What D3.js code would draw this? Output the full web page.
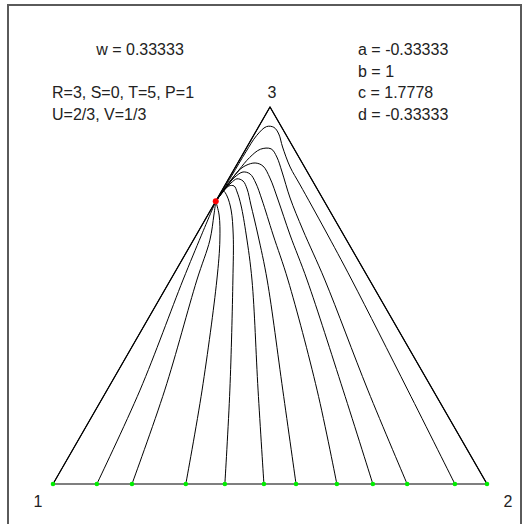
<!DOCTYPE html>
<html>
<head>
<meta charset="utf-8">
<script src="https://cdn.jsdelivr.net/npm/d3@7/dist/d3.min.js"></script>
<style>
  html, body { margin: 0; padding: 0; background: #fff; }
  svg { display: block; }
  text { font-family: "Liberation Sans", Arial, sans-serif; font-size: 16px; fill: #222; }
</style>
</head>
<body>
<svg id="chart" width="524" height="524"></svg>
<script>
// Simplex of three strategies; each point is [share of 2, share of 3] (share of 1 is the rest).
const vertexLabels = ["1", "2", "3"];
const weightLabel = "w = 0.33333";
const payoffLabels = ["R=3, S=0, T=5, P=1", "U=2/3, V=1/3"];
const coefLabels = ["a = -0.33333", "b = 1", "c = 1.7778", "d = -0.33333"];

// starting states on the 1–2 edge
const starts = [0, 0.101, 0.182, 0.306, 0.396, 0.486, 0.560, 0.654, 0.737, 0.816, 0.926, 1];

// rest point on the 1–3 edge
const restPoint = [0, 0.75];

// trajectories, one per starting state
const traj0 = [[0, 0], [0, 0.75]];
const traj1 = [[0.101, 0], [0.076, 0.249], [0.029, 0.541], [0.012, 0.66], [0, 0.75]];
const traj2 = [[0.182, 0], [0.133, 0.249], [0.061, 0.541], [0.038, 0.647], [0.014, 0.7135], [0, 0.75]];
const traj3 = [[0.306, 0], [0.219, 0.249], [0.107, 0.541], [0.061, 0.647], [0.026, 0.7135], [0, 0.75]];
const traj4 = [[0.396, 0], [0.283, 0.249], [0.144, 0.541], [0.085, 0.6605], [0.047, 0.7268],
               [0.019, 0.7639], [0.004, 0.7772], [0.002, 0.765], [0, 0.75]];
const traj5 = [[0.486, 0], [0.348, 0.249], [0.188, 0.541], [0.115, 0.6605], [0.063, 0.7401],
               [0.037, 0.7745], [0.022, 0.7905], [0.010, 0.7905], [0.005, 0.7772], [0.002, 0.7613], [0, 0.75]];
const traj6 = [[0.560, 0], [0.405, 0.249], [0.223, 0.541], [0.142, 0.6605], [0.086, 0.7401],
               [0.056, 0.7825], [0.036, 0.8037], [0.019, 0.8095], [0.011, 0.7984], [0.004, 0.7798], [0, 0.75]];
const traj7 = [[0.654, 0], [0.484, 0.249], [0.271, 0.541], [0.177, 0.6605], [0.105, 0.7533],
               [0.068, 0.7984], [0.043, 0.8223], [0.024, 0.8276], [0.012, 0.8143], [0.006, 0.7905],
               [0.002, 0.7666], [0, 0.75]];
const traj8 = [[0.737, 0], [0.544, 0.249], [0.315, 0.541], [0.216, 0.6605], [0.142, 0.7533],
               [0.094, 0.8117], [0.062, 0.8435], [0.040, 0.8515], [0.022, 0.8450], [0.012, 0.8302],
               [0.006, 0.7905], [0, 0.75]];
const traj9 = [[0.816, 0], [0.601, 0.249], [0.356, 0.541], [0.239, 0.6737], [0.167, 0.7586],
               [0.114, 0.8276], [0.082, 0.8674], [0.058, 0.8890], [0.034, 0.8880], [0.020, 0.8660],
               [0.012, 0.8329], [0.005, 0.7958], [0, 0.75]];
const traj10 = [[0.926, 0], [0.693, 0.249], [0.418, 0.541], [0.290, 0.6737], [0.173, 0.7931],
                [0.126, 0.8408], [0.082, 0.8939], [0.056, 0.9284], [0.036, 0.9460], [0.018, 0.9480],
                [0.007, 0.9240], [0.004, 0.8806], [0.003, 0.8196], [0.002, 0.7745], [0, 0.75]];
const traj11 = [[1, 0], [0, 1], [0, 0.75]];

const curved = [traj1, traj2, traj3, traj4, traj5, traj6, traj7, traj8, traj9, traj10];
const edges = [traj0, traj11];

const svg = d3.select("#chart");

// frame
svg.append("rect")
  .attr("x", 8).attr("y", 5).attr("width", 513).attr("height", 530)
  .attr("fill", "none").attr("stroke", "#5a5a5a").attr("stroke-width", 2);

// horizontal position from the 1–2 edge, height toward vertex 3
const xScale = d3.scaleLinear().domain([0, 1]).range([53, 487]);
const yScale = d3.scaleLinear().domain([0, 1]).range([484, 107]);
const px = d => xScale(d[0] + d[1] / 2);
const py = d => yScale(d[1]);

const triangle = [[0, 0], [1, 0], [0, 1], [0, 0]];
const straight = d3.line().x(px).y(py);
const smooth = d3.line().x(px).y(py).curve(d3.curveCatmullRom.alpha(0.5));

svg.append("path")
  .attr("d", straight(triangle))
  .attr("fill", "none").attr("stroke", "#000").attr("stroke-width", 1.2);

svg.append("g").selectAll("path").data(edges).join("path")
  .attr("d", straight)
  .attr("fill", "none").attr("stroke", "#000").attr("stroke-width", 1);

svg.append("g").selectAll("path").data(curved).join("path")
  .attr("d", smooth)
  .attr("fill", "none").attr("stroke", "#000").attr("stroke-width", 1);

// starting states
svg.append("g").selectAll("circle").data(starts).join("circle")
  .attr("cx", s => px([s, 0])).attr("cy", s => py([s, 0]))
  .attr("r", 2.3).attr("fill", "#00ee00");

// rest point
svg.append("circle")
  .attr("cx", px(restPoint)).attr("cy", py(restPoint))
  .attr("r", 3).attr("fill", "#ff0000");

// labels
svg.append("text").attr("x", 140).attr("y", 55).attr("text-anchor", "middle").text(weightLabel);
svg.append("g").selectAll("text").data(payoffLabels).join("text")
  .attr("x", 52).attr("y", (d, i) => 98 + i * 22).text(d => d);
svg.append("g").selectAll("text").data(coefLabels).join("text")
  .attr("x", 358).attr("y", (d, i) => 55 + i * 21.7).text(d => d);

const vertexPos = [[38, 507], [508, 507], [272, 98]];
svg.append("g").selectAll("text").data(vertexLabels).join("text")
  .attr("x", (d, i) => vertexPos[i][0]).attr("y", (d, i) => vertexPos[i][1])
  .attr("text-anchor", "middle").text(d => d);
</script>
</body>
</html>
